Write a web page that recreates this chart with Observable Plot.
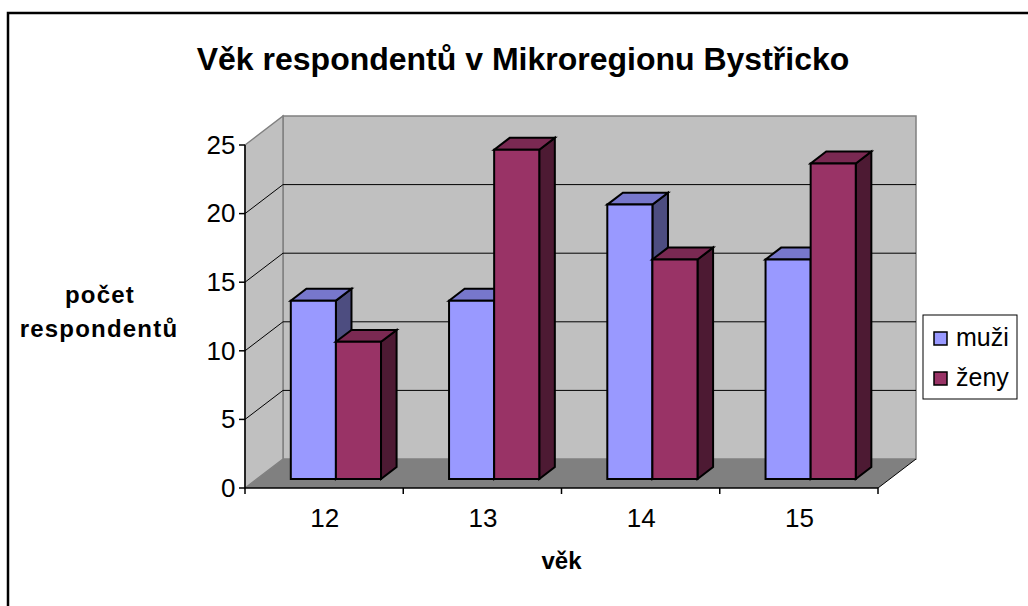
<!DOCTYPE html>
<html><head><meta charset="utf-8">
<script src="https://cdn.jsdelivr.net/npm/d3@7"></script>
<script src="https://cdn.jsdelivr.net/npm/@observablehq/plot@0.6"></script>
<style>html,body{margin:0;padding:0;background:#fff;overflow:hidden} svg{display:block}</style>
</head><body><div id="chart"></div>
<script>
// ---- data ----
const categories = ["12", "13", "14", "15"];
const seriesNames = ["muži", "ženy"];
const muzi = [13, 13, 20, 16];
const zeny = [10, 24, 16, 23];
const yTicks = [0, 5, 10, 15, 20, 25];
const titleText = "Věk respondentů v Mikroregionu Bystřicko";
const yLabelLines = ["počet", "respondentů"];
const xLabelText = "věk";

const seriesValues = [muzi, zeny];
const data = categories.flatMap((c, i) => seriesNames.map((s, k) => ({cat: c, i, s, k, v: seriesValues[k][i]})));

// ---- style ----
const FONT = "'Liberation Sans', Arial, sans-serif";
const colors = [
  {front: "#9999ff", top: "#7777cc", side: "#4d4d80"},
  {front: "#993366", top: "#7a2952", side: "#4d1a33"}
];
const DX = 38, DY = -29;      // full depth shift of the box
const D0 = 0.31, D1 = 0.72;   // bar depth range
const GAP = 0.215, BW = 0.285; // bar placement within a category (units of category width)
const W = 1028, H = 606;

function scene(index, scales) {
  const x = scales.x, y = scales.y;
  const n = categories.length;
  const g = d3.create("svg:g");
  const sh = (px, py, d) => [px + DX * d, py + DY * d];
  const poly = (pts, fill, stroke, sw) => g.append("polygon")
    .attr("points", pts.map(p => p.join(",")).join(" "))
    .attr("fill", fill).attr("stroke", stroke || "none").attr("stroke-width", sw || 1)
    .attr("stroke-linejoin", "miter");
  const line = (a, b, stroke, sw) => g.append("line")
    .attr("x1", a[0]).attr("y1", a[1]).attr("x2", b[0]).attr("y2", b[1])
    .attr("stroke", stroke).attr("stroke-width", sw || 1);
  const x0 = x(0), x1 = x(n), y0 = y(0), yT = y(yTicks[yTicks.length - 1]);

  // walls + floor
  poly([sh(x0, y0, 1), sh(x1, y0, 1), sh(x1, yT, 1), sh(x0, yT, 1)], "#c0c0c0", "#808080", 1.5);
  poly([[x0, y0], sh(x0, y0, 1), sh(x0, yT, 1), [x0, yT]], "#c0c0c0", "#808080", 1.5);
  poly([[x0, y0], [x1, y0], sh(x1, y0, 1), sh(x0, y0, 1)], "#808080");

  // gridlines
  for (const t of yTicks.slice(1, -1)) {
    line(sh(x0, y(t), 1), sh(x1, y(t), 1), "#000", 1);
    line([x0, y(t)], sh(x0, y(t), 1), "#000", 1);
  }
  // right floor edge
  line([x1, y0], sh(x1, y0, 1), "#000", 1);

  // bars
  const dd = D1 - D0;
  for (const d of data) {
    const c = colors[d.k];
    const [l, b] = sh(x(d.i + GAP + d.k * BW), y(0), D0);
    const [r, t] = sh(x(d.i + GAP + (d.k + 1) * BW), y(d.v), D0);
    const ox = DX * dd, oy = DY * dd;
    poly([[r, t], [r + ox, t + oy], [r + ox, b + oy], [r, b]], c.side, "#000", 2);
    poly([[l, t], [r, t], [r + ox, t + oy], [l + ox, t + oy]], c.top, "#000", 2);
    poly([[l, t], [r, t], [r, b], [l, b]], c.front, "#000", 2);
  }

  // axes lines and ticks
  line([x0, yT], [x0, y0], "#000", 1.5);
  line([x0, y0], [x1, y0], "#000", 1.5);
  for (let i = 0; i <= n; i++) line([x(i), y0], [x(i), y0 + 6], "#000", 1.5);
  for (const t of yTicks) line([x0 - 6, y(t)], [x0, y(t)], "#000", 1.5);

  // titles
  const txt = (s, px, py, size, weight, anchor) => g.append("text")
    .attr("x", px).attr("y", py).attr("font-size", size).attr("font-weight", weight)
    .attr("font-family", FONT).attr("text-anchor", anchor).attr("fill", "#000").text(s);
  txt(titleText, 523, 70, 32, "bold", "middle");
  txt(yLabelLines[0], 100, 303, 24, "bold", "middle").attr("letter-spacing", 1.2);
  txt(yLabelLines[1], 99, 337, 24, "bold", "middle").attr("letter-spacing", 1.2);
  txt(xLabelText, (x0 + x1) / 2, 569, 24, "bold", "middle");

  // legend
  g.append("rect").attr("x", 923).attr("y", 315).attr("width", 94).attr("height", 84)
    .attr("fill", "#fff").attr("stroke", "#000").attr("stroke-width", 1);
  seriesNames.forEach((s, k) => {
    g.append("rect").attr("x", 934).attr("y", 332 + k * 40).attr("width", 13).attr("height", 13)
      .attr("fill", colors[k].front).attr("stroke", "#000").attr("stroke-width", 1.5);
    txt(s, 956, 346 + k * 40, 25, "normal", "start");
  });

  // chart border
  g.append("rect").attr("x", 8).attr("y", 13).attr("width", W + 20).attr("height", H + 20)
    .attr("fill", "none").attr("stroke", "#000").attr("stroke-width", 2.5);
  return g.node();
}

const chart = Plot.plot({
  width: W, height: H,
  marginLeft: 245, marginRight: W - 878, marginTop: 145, marginBottom: H - 488,
  style: {fontFamily: FONT, background: "#fff", color: "#000"},
  x: {type: "linear", domain: [0, categories.length]},
  y: {type: "linear", domain: [0, 25]},
  marks: [
    scene,
    Plot.axisY({ticks: yTicks, tickSize: 0, tickPadding: 10, fontSize: 26, label: null}),
    Plot.axisX({ticks: categories.map((c, i) => i + 0.5), tickFormat: v => categories[Math.floor(v)],
      tickSize: 0, tickPadding: 20, fontSize: 26, label: null})
  ]
});
document.getElementById("chart").appendChild(chart);
</script>
</body></html>
